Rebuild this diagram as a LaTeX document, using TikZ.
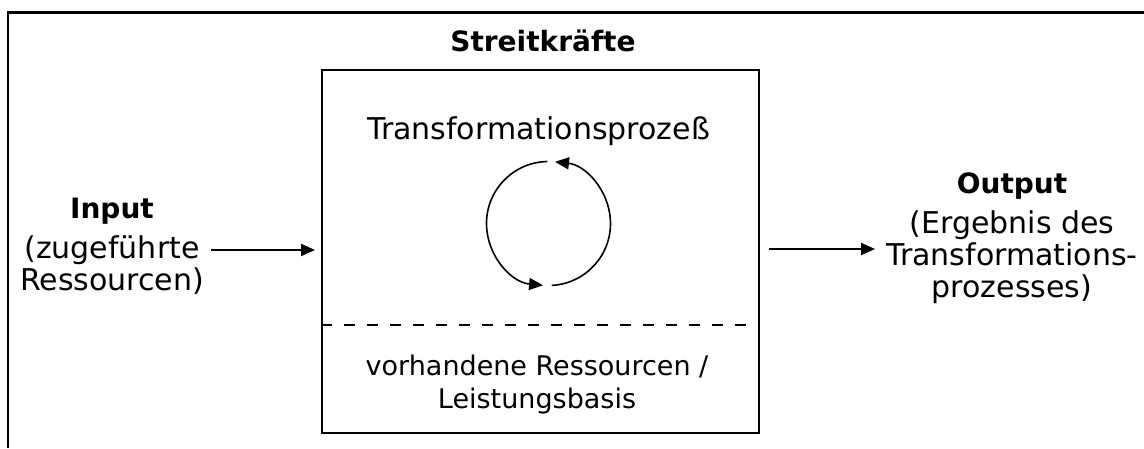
\documentclass[tikz,border=0pt]{standalone}
\usepackage{fontspec}
\setmainfont{DejaVu Sans}
\usetikzlibrary{arrows.meta}
\begin{document}
\begin{tikzpicture}[x=1pt,y=1pt,
  frame/.style={line width=2.5pt},
  boxline/.style={line width=2pt},
  flow/.style={line width=2pt,-{Triangle[length=14pt,width=12pt]}},
  cyclearc/.style={line width=1.6pt,-{Triangle[length=14pt,width=12pt]}},
  body/.style={font=\fontsize{30}{32}\selectfont, inner sep=0pt, align=center},
  head/.style={font=\fontsize{28}{32}\selectfont\bfseries, inner sep=0pt},
]
\useasboundingbox (0,0) rectangle (1144,448);
\fill[white] (0,0) rectangle (1144,448);

% outer frame (continues beyond the right and lower edges)
\draw[frame] (1144,435.5) -- (8,435.5) -- (8,0);

% the armed forces as a system
\node[draw, boxline, minimum width=437pt, minimum height=363pt, inner sep=0pt] (forces) at (540.5,196.5) {};
\node[head, anchor=base] (forcesTitle) at (543,396) {Streitkräfte};
\coordinate (split) at (0,123);
\draw[boxline, dash pattern=on 11pt off 12pt] (forces.west |- split) -- (forces.east |- split);

% transformation process with its cycle
\node[body, anchor=base] (process) at (538.5,308) {Transformationsprozeß};
\coordinate (cyc) at (548.5,224.5);
\draw[cyclearc] ([shift={(91:62)}]cyc) arc[start angle=91,end angle=265,radius=62];
\draw[cyclearc] ([shift={(-87:62)}]cyc) arc[start angle=-87,end angle=84,radius=62];

% resources at hand (base anchor sits on the last line)
\node[font=\fontsize{27}{33}\selectfont, inner sep=0pt, align=center, anchor=base] (stock) at (537,40) {vorhandene Ressourcen /\\Leistungsbasis};

% input side
\node[body, anchor=base] (input) at (112,158) {\textbf{\fontsize{28}{32}\selectfont Input}\\[8pt](zugeführte\\Ressourcen)};
\coordinate (inLevel) at (0,198);
\draw[flow] ([xshift=7pt]input.east |- inLevel) -- ([xshift=-6pt]forces.west |- inLevel);

% output side
\node[body, anchor=base] (output) at (1012,151) {\textbf{\fontsize{28}{32}\selectfont Output}\\[8pt](Ergebnis des\\Transformations-\\prozesses)};
\coordinate (outLevel) at (0,199);
\draw[flow] ([xshift=9pt]forces.east |- outLevel) -- ([xshift=-11pt]output.west |- outLevel);
\end{tikzpicture}
\end{document}
